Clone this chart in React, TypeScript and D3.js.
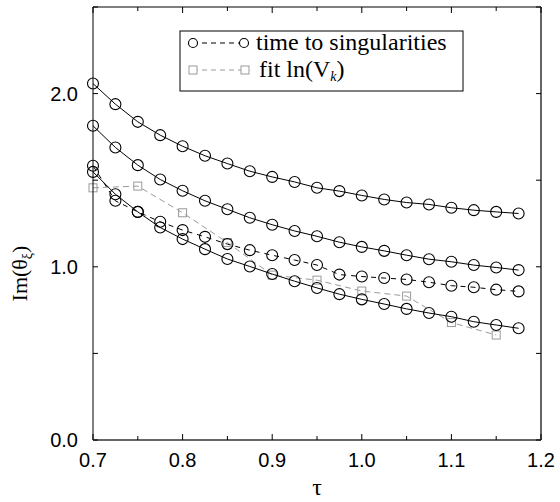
import React from "react";
import * as d3 from "d3";

const TAU = [0.7, 0.725, 0.75, 0.775, 0.8, 0.825, 0.85, 0.875, 0.9, 0.925, 0.95, 0.975, 1.0, 1.025, 1.05, 1.075, 1.1, 1.125, 1.15, 1.175];
const SERIES_A = [2.058, 1.939, 1.837, 1.76, 1.696, 1.641, 1.596, 1.552, 1.519, 1.49, 1.456, 1.437, 1.412, 1.389, 1.371, 1.36, 1.341, 1.327, 1.317, 1.308];
const SERIES_B = [1.814, 1.689, 1.587, 1.504, 1.439, 1.381, 1.332, 1.283, 1.243, 1.207, 1.176, 1.142, 1.115, 1.092, 1.067, 1.044, 1.029, 1.01, 0.996, 0.981];
const SERIES_C = [1.583, 1.381, 1.317, 1.26, 1.212, 1.173, 1.131, 1.096, 1.067, 1.039, 1.01, 0.955, 0.944, 0.935, 0.927, 0.911, 0.891, 0.882, 0.868, 0.858];
const SERIES_D = [1.548, 1.419, 1.317, 1.227, 1.16, 1.102, 1.045, 1.002, 0.958, 0.917, 0.878, 0.842, 0.812, 0.785, 0.757, 0.733, 0.712, 0.683, 0.664, 0.645];
const FIT_TAU = [0.7, 0.75, 0.8, 0.85, 0.9, 0.95, 1.0, 1.05, 1.1, 1.15];
const FIT_VALS = [1.456, 1.466, 1.312, 1.14, 0.952, 0.923, 0.86, 0.831, 0.678, 0.606];
const X_TICK_LABELS = ["0.7", "0.8", "0.9", "1.0", "1.1", "1.2"];
const Y_TICK_LABELS = ["0.0", "1.0", "2.0"];
const LEGEND = ["time to singularities", "fit ln(V"];

const W = 560, H = 502;
const L = 93, R = 541, T = 7, B = 440;

export default function App() {
  const x = d3.scaleLinear().domain([0.7, 1.2]).range([L, R]);
  const y = d3.scaleLinear().domain([0, 2.5]).range([B, T]);
  const line = d3.line<[number, number]>().x(d => x(d[0])).y(d => y(d[1]));
  const pts = (vals: number[], xs: number[]) => xs.map((t, i) => [t, vals[i]] as [number, number]);

  const xMinor = d3.range(0, 11).map(i => 0.7 + i * 0.05);
  const yMinor = d3.range(0, 6).map(i => i * 0.5);

  const circleSeries = [
    { vals: SERIES_A, dash: undefined },
    { vals: SERIES_B, dash: undefined },
    { vals: SERIES_C, dash: "5,5" },
    { vals: SERIES_D, dash: undefined },
  ];

  const gray = "#9a9a9a";
  const serif = "'Liberation Serif', 'Times New Roman', serif";
  const sans = "'Liberation Sans', Arial, sans-serif";

  return (
    <svg width={W} height={H} style={{ position: "absolute", left: 0, top: 0, background: "#fff" }}>
      <rect x={0} y={0} width={W} height={H} fill="#fff" />
      {/* fit series */}
      <path d={line(pts(FIT_VALS, FIT_TAU)) || ""} fill="none" stroke={gray} strokeWidth={1} strokeDasharray="6,4" />
      {FIT_TAU.map((t, i) => (
        <rect key={"s" + i} x={x(t) - 4} y={y(FIT_VALS[i]) - 4} width={8} height={8} fill="none" stroke={gray} strokeWidth={1} />
      ))}
      {circleSeries.map((s, k) => (
        <g key={"c" + k}>
          <path d={line(pts(s.vals, TAU)) || ""} fill="none" stroke="#000" strokeWidth={1} strokeDasharray={s.dash} />
          {TAU.map((t, i) => (
            <circle key={i} cx={x(t)} cy={y(s.vals[i])} r={5.5} fill="none" stroke="#000" strokeWidth={1.1} />
          ))}
        </g>
      ))}

      {/* frame */}
      <line x1={L} y1={T} x2={R} y2={T} stroke="#000" strokeWidth={1} />
      <line x1={L} y1={T} x2={L} y2={B} stroke="#000" strokeWidth={1} />
      <line x1={L} y1={B} x2={R} y2={B} stroke="#666" strokeWidth={2} />
      <line x1={R} y1={T} x2={R} y2={B} stroke="#666" strokeWidth={2} />

      {/* x ticks */}
      {xMinor.map((t, i) => {
        const len = i % 2 === 0 ? 6 : 4;
        return (
          <g key={"xt" + i}>
            <line x1={x(t)} x2={x(t)} y1={B} y2={B - len} stroke="#000" strokeWidth={1} />
            <line x1={x(t)} x2={x(t)} y1={T} y2={T + len} stroke="#000" strokeWidth={1} />
          </g>
        );
      })}
      {yMinor.map((v, i) => (
        <g key={"yt" + i}>
          <line x1={L} x2={L + 5} y1={y(v)} y2={y(v)} stroke="#000" strokeWidth={1} />
          <line x1={R} x2={R - 5} y1={y(v)} y2={y(v)} stroke="#000" strokeWidth={1} />
        </g>
      ))}
      {X_TICK_LABELS.map((lab, i) => (
        <text key={"xl" + i} x={x(+lab)} y={467} textAnchor="middle" fontFamily={sans} fontSize={20}>{lab}</text>
      ))}
      {Y_TICK_LABELS.map((lab, i) => (
        <text key={"yl" + i} x={78} y={y(+lab)} dy="0.35em" textAnchor="end" fontFamily={sans} fontSize={20}>{lab}</text>
      ))}

      {/* axis titles */}
      <text x={(L + R) / 2} y={495} textAnchor="middle" fontFamily={serif} fontSize={24}>τ</text>
      <text transform={`translate(27, ${(T + B) / 2 + 50}) rotate(-90)`} textAnchor="middle" fontFamily={serif} fontSize={22}>
        Im(θ<tspan fontSize={14} dy={5}>ξ</tspan><tspan dy={-5}>)</tspan>
      </text>

      {/* legend */}
      <rect x={180} y={31} width={283} height={60} fill="#fff" stroke="#000" strokeWidth={1} />
      <line x1={193} x2={244} y1={43} y2={43} stroke="#000" strokeWidth={1} strokeDasharray="5,4" />
      <circle cx={193} cy={43} r={4.5} fill="#fff" stroke="#000" strokeWidth={1.1} />
      <circle cx={244} cy={43} r={4.5} fill="#fff" stroke="#000" strokeWidth={1.1} />
      <text x={256} y={50} fontFamily={serif} fontSize={24}>{LEGEND[0]}</text>
      <line x1={193} x2={245} y1={70} y2={70} stroke={gray} strokeWidth={1} strokeDasharray="5,4" />
      <rect x={189} y={66} width={8} height={8} fill="#fff" stroke={gray} strokeWidth={1} />
      <rect x={241} y={66} width={8} height={8} fill="#fff" stroke={gray} strokeWidth={1} />
      <text x={259} y={77} fontFamily={serif} fontSize={24}>
        {LEGEND[1]}<tspan fontSize={14} dy={4} fontStyle="italic">k</tspan><tspan dy={-4}>)</tspan>
      </text>
    </svg>
  );
}
